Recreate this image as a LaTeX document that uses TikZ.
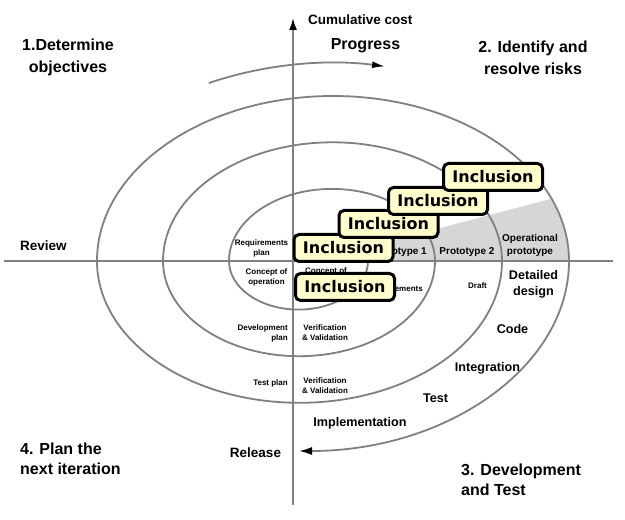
\documentclass[tikz,border=0pt]{standalone}
\usepackage{fontspec}
\setmainfont{Liberation Sans}
\newfontfamily\dejavu{DejaVu Sans}
\usetikzlibrary{arrows.meta,calc}
\definecolor{linegray}{RGB}{128,128,128}
\definecolor{riskgray}{RGB}{214,214,214}
\definecolor{inclfill}{RGB}{255,253,204}
\tikzset{
  spiral/.style={draw=linegray, line width=1.8pt},
  tipb/.style={-{Latex[length=13pt,width=8pt,color=black]}},
  incl/.style={draw=black, line width=3pt, rounded corners=5pt, fill=inclfill,
    minimum width=99pt, minimum height=27pt, inner sep=0pt,
    font=\dejavu\bfseries\fontsize{16}{18}\selectfont},
  big/.style={font=\bfseries\fontsize{16}{22}\selectfont, inner sep=0pt},
  lab/.style={font=\bfseries\fontsize{13.5}{16}\selectfont, inner sep=0pt},
  mid/.style={font=\bfseries\fontsize{12.6}{16}\selectfont, inner sep=0pt},
  proto/.style={font=\bfseries\fontsize{10}{13}\selectfont, inner sep=0pt},
  small/.style={font=\bfseries\fontsize{8}{10}\selectfont, inner sep=0pt},
}
\begin{document}
\begin{tikzpicture}[x=1pt,y=1pt]
\useasboundingbox[fill=white] (0,0) rectangle (625,520);
% risk analysis shading
\coordinate (g1) at (393,279.5);
\coordinate (g2) at (551.5,321.3);
\coordinate (g3) at (393,259);
\fill[riskgray] (g1) -- (g2) arc[start angle=22.2,end angle=0,x radius=236pt,y radius=165pt] -- (g3) -- cycle;
% axes
\coordinate (hl) at (4,259);
\coordinate (hr) at (613,259);
\coordinate (vb) at (293,15);
\coordinate (vt) at (293,502);
\draw[spiral] (hl) -- (hr);
\draw[spiral,-{Latex[length=12pt,width=8pt,color=black]}] (vb) -- (vt);
% spiral
\coordinate (s0) at (368,259);
\draw[spiral,tipb] (s0)
  arc[start angle=0,end angle=-180,x radius=69.5pt,y radius=48.6pt]
  arc[start angle=180,end angle=0,x radius=103pt,y radius=72.1pt]
  arc[start angle=0,end angle=-180,x radius=136pt,y radius=95.2pt]
  arc[start angle=180,end angle=0,x radius=169.5pt,y radius=118.7pt]
  arc[start angle=0,end angle=-180,x radius=202.5pt,y radius=141.8pt]
  arc[start angle=180,end angle=0,x radius=236pt,y radius=165pt]
  arc[start angle=0,end angle=-90,x radius=270pt,y radius=190pt];
% progress arrow
\coordinate (pc) at (333,259);
\coordinate (p0) at ($(pc)+(116:283pt and 198pt)$);
\draw[spiral,-{Latex[length=13pt,width=7pt,color=black]}] (p0)
  arc[start angle=116,end angle=79.4,x radius=283pt,y radius=198pt];
% big labels
\node[lab,anchor=west] (cum) at (308,500) {Cumulative cost};
\node[big] (prog) at (365.5,474) {Progress};
\node[big,align=center] (q1) at (68,462.5) {1.Determine\\objectives};
\node[big,align=center] (q2) at (533,462.5) {2. Identify and\\resolve risks};
\node[big,align=left,anchor=west,font=\bfseries\fontsize{16}{20}\selectfont] (q4) at (20,61) {4. Plan the\\next iteration};
\node[big,align=left,anchor=west,font=\bfseries\fontsize{16}{20}\selectfont] (q3) at (461,40.5) {3. Development\\and Test};
\node[lab,anchor=west] (rev) at (20,274) {Review};
\node[lab] (rel) at (255.5,67) {Release};
% phase labels
\node[mid] (impl) at (360,97) {Implementation};
\node[mid] (test) at (435.5,122) {Test};
\node[mid] (integ) at (487.5,152) {Integration};
\node[mid] (code) at (512.5,191) {Code};
\node[mid,align=center] (det) at (533.5,236) {Detailed\\design};
\node[small] (draft) at (477.5,234) {Draft};
\node[small,anchor=east] (req) at (423,231) {Requirements};
\node[small,align=center] (cor) at (326,243.5) {Concept of\\requirements};
\node[small,align=center] (rp) at (261.5,272) {Requirements\\plan};
\node[small,align=center] (coo) at (266.5,243) {Concept of\\operation};
\node[small,align=right,anchor=east] (dp) at (288,187) {Development\\plan};
\node[small,align=center] (vv1) at (325,187) {Verification\\\& Validation};
\node[small,anchor=east] (tp) at (288,137) {Test plan};
\node[small,align=center] (vv2) at (325,134) {Verification\\\& Validation};
\node[proto,anchor=east] (pr1) at (427,268) {Prototype 1};
\node[proto] (pr2) at (467,268) {Prototype 2};
\node[proto,align=center] (opr) at (530,274.5) {Operational\\prototype};
% inclusion boxes
\node[incl] (i5) at (345,233) {Inclusion};
\node[incl] (i1) at (343.5,272) {Inclusion};
\node[incl] (i2) at (388.5,296) {Inclusion};
\node[incl] (i3) at (438,319) {Inclusion};
\node[incl] (i4) at (493,343) {Inclusion};
\end{tikzpicture}
\end{document}
